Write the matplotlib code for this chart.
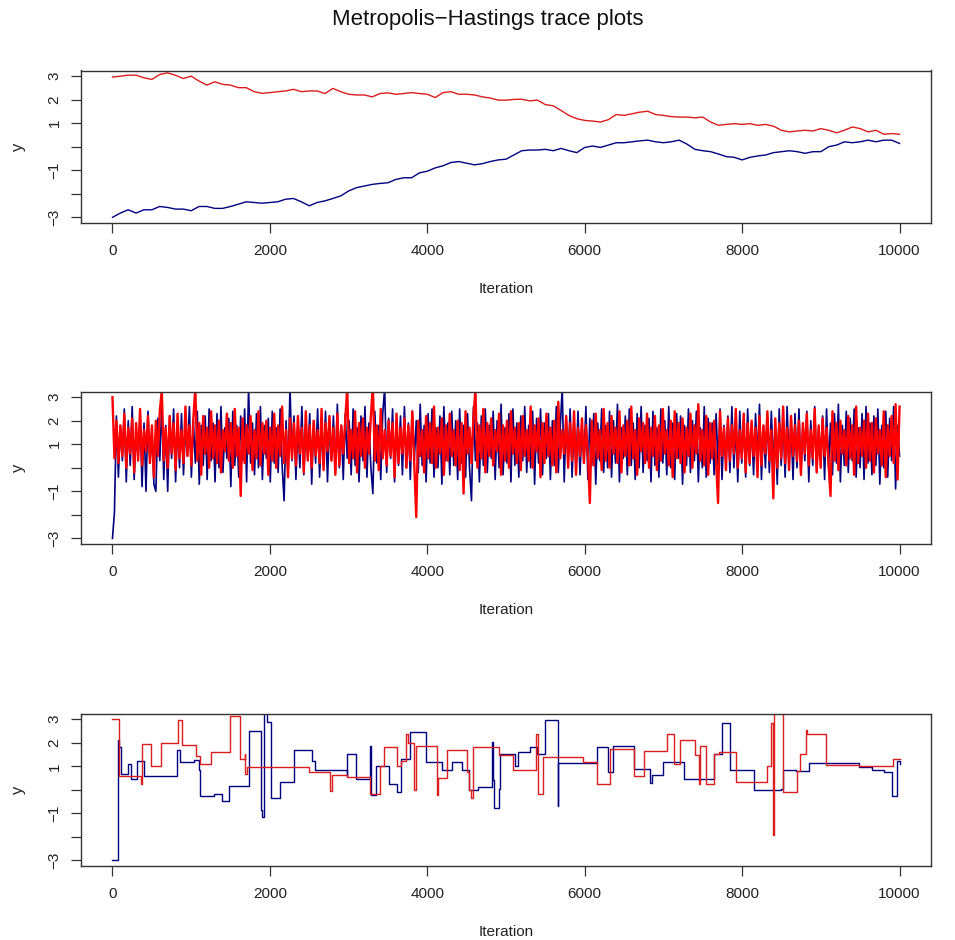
import numpy as np
import matplotlib
matplotlib.use("Agg")
import matplotlib.pyplot as plt

plt.rcParams['font.family'] = ['Liberation Sans', 'DejaVu Sans']

# chain 1: random walk proposals (slow drift), sampled every 100 iterations
red_top = [2.96, 3.0, 3.04, 3.04, 2.93, 2.86, 3.07, 3.14, 3.04, 2.9,
           3.0, 2.79, 2.62, 2.76, 2.65, 2.62, 2.51, 2.51, 2.34, 2.27,
           2.3, 2.34, 2.37, 2.44, 2.34, 2.37, 2.37, 2.26, 2.48, 2.34,
           2.23, 2.2, 2.2, 2.12, 2.26, 2.29, 2.23, 2.26, 2.3, 2.26,
           2.23, 2.09, 2.3, 2.34, 2.23, 2.23, 2.2, 2.12, 2.07, 1.98,
           1.98, 2.01, 2.02, 1.95, 1.98, 1.79, 1.74, 1.54, 1.33, 1.19,
           1.12, 1.09, 1.05, 1.15, 1.37, 1.33, 1.4, 1.47, 1.51, 1.37,
           1.33, 1.28, 1.26, 1.26, 1.23, 1.26, 1.05, 0.91, 0.95, 0.98,
           0.95, 0.98, 0.91, 0.95, 0.87, 0.7, 0.63, 0.67, 0.7, 0.67,
           0.77, 0.7, 0.59, 0.7, 0.84, 0.77, 0.63, 0.7, 0.53, 0.56, 0.53]
blue_top = [-3.0, -2.82, -2.68, -2.82, -2.68, -2.68, -2.54, -2.58, -2.65, -2.65,
            -2.72, -2.54, -2.54, -2.62, -2.62, -2.54, -2.44, -2.34, -2.37, -2.4,
            -2.37, -2.34, -2.23, -2.2, -2.34, -2.51, -2.37, -2.3, -2.2, -2.09,
            -1.88, -1.74, -1.67, -1.6, -1.56, -1.53, -1.39, -1.32, -1.32, -1.11,
            -1.04, -0.9, -0.81, -0.67, -0.63, -0.7, -0.77, -0.72, -0.63, -0.56,
            -0.53, -0.35, -0.17, -0.14, -0.14, -0.11, -0.17, -0.07, -0.17, -0.25,
            -0.03, 0.03, -0.03, 0.07, 0.17, 0.17, 0.21, 0.25, 0.28, 0.21,
            0.17, 0.21, 0.28, 0.11, -0.11, -0.17, -0.21, -0.31, -0.42, -0.45,
            -0.56, -0.45, -0.39, -0.35, -0.25, -0.21, -0.17, -0.21, -0.28, -0.21,
            -0.21, 0.0, 0.07, 0.21, 0.17, 0.21, 0.28, 0.21, 0.28, 0.28, 0.14]

# chain 2: well-mixing sampler, thinned to 400 draws
red_mid = [3.0, 0.4, 2.0, 0.2, 1.8, 0.5, 2.3, 0.0, 1.7, 0.6,
           2.1, -0.2, 1.9, 0.3, 2.5, 0.1, 1.6, 0.7, 2.2, 0.2,
           1.8, -0.4, 2.0, 0.5, 2.4, 3.3, 0.3, 1.7, 0.0, 2.2,
           0.6, 1.9, -0.1, 2.3, 0.4, 1.6, 0.2, 2.6, 0.5, 1.8,
           0.1, 2.1, 3.4, 0.3, 1.9, -0.3, 2.2, 0.6, 1.7, 0.0,
           2.4, 0.4, 1.8, 0.2, 2.0, -0.2, 1.6, 0.7, 2.3, 0.3,
           1.9, 0.0, 2.5, 0.5, 1.7, -1.2, 2.1, 0.2, 1.8, 0.6,
           2.2, -0.1, 1.6, 0.4, 2.4, 0.1, 1.9, 0.6, 2.0, -0.3,
           1.7, 0.3, 2.3, 0.0, 1.8, 0.5, 2.6, 0.2, 1.6, -0.4,
           2.1, 0.4, 1.9, 0.1, 2.2, 0.6, 1.7, -0.2, 2.4, 0.3,
           1.8, 0.0, 2.0, 0.5, 1.6, 0.2, 2.5, -0.1, 1.9, 0.7,
           2.2, 0.3, 1.7, -0.3, 2.3, 0.1, 1.8, 0.6, 2.0, 3.4,
           0.2, 1.6, 0.4, 2.4, -0.2, 1.9, 0.5, 2.1, 0.0, 1.7,
           0.6, 2.2, 3.5, 0.3, 1.8, -0.1, 2.5, 0.4, 1.6, 0.1,
           2.0, 0.5, 1.9, -0.4, 2.3, 0.2, 1.7, 0.6, 2.1, 0.0,
           1.8, 0.3, 2.4, 0.1, -2.1, 2.0, 0.5, 1.6, -0.2, 2.2,
           0.4, 1.9, 0.2, 2.6, 0.0, 1.7, 0.6, 2.1, -0.3, 1.8,
           0.3, 2.3, 0.5, 1.6, 0.1, 2.0, -0.1, 1.9, -1.1, 2.4,
           0.6, 1.7, 0.2, 2.2, 3.3, 0.0, 1.8, 0.4, 2.5, -0.2,
           1.9, 0.5, 2.1, 0.1, 1.6, 0.7, 2.3, -0.3, 1.8, 0.3,
           2.0, 0.0, 2.4, 0.6, 1.7, 0.2, 1.9, -0.1, 2.2, 0.5,
           1.6, 0.3, 2.6, 0.0, 1.8, 0.7, 2.1, -0.4, 1.9, 0.2,
           2.3, 0.5, 1.7, 0.1, 2.0, -0.2, 2.8, 0.4, 1.6, 0.6,
           2.2, 0.0, 1.9, 0.3, 2.4, -0.3, 1.7, 0.5, 2.1, 0.2,
           1.8, 0.6, -1.5, 2.0, 0.1, 2.3, 0.4, 1.6, -0.1, 2.5,
           0.3, 1.9, 0.0, 2.2, 0.6, 1.7, 0.2, 2.4, -0.2, 1.8,
           0.5, 2.0, 0.1, 2.6, 0.4, 1.6, -0.3, 2.1, 0.7, 1.9,
           0.2, 2.3, 0.0, 1.7, 0.5, 2.2, -0.1, 1.8, 0.3, 2.5,
           0.6, 1.6, 0.1, 2.0, -0.4, 2.4, 0.4, 1.9, 0.2, 2.1,
           -0.2, 1.7, 0.5, 2.3, 0.0, 1.8, 0.6, 2.7, 0.3, 1.6,
           0.1, 2.2, -0.3, 1.9, 0.4, 2.0, 0.2, -1.5, 2.4, 0.5,
           1.7, -0.1, 2.1, 0.3, 1.8, 0.6, 2.5, 0.0, 1.6, 0.4,
           2.3, -0.2, 1.9, 0.2, 2.0, 0.5, 1.7, -0.4, 2.2, 0.1,
           1.8, 0.6, 2.4, 0.3, 1.6, -1.3, 2.1, 0.0, 1.9, 0.4,
           2.6, 0.2, 1.7, -0.1, 2.2, 0.5, 1.8, 0.3, 2.0, -0.3,
           1.9, 0.6, 2.3, 0.1, 1.6, 0.4, 2.5, -0.2, 1.8, 0.0,
           2.1, 0.5, 1.7, 0.2, -1.2, 2.4, 0.3, 1.9, -0.1, 2.0,
           0.6, 1.6, 0.1, 2.2, 0.4, 1.8, -0.3, 2.6, 0.2, 1.7,
           0.5, 2.0, 0.0, 2.3, 0.3, 1.9, -0.2, 2.1, 0.6, 1.6,
           0.1, 2.4, -0.4, 1.8, 0.5, 2.2, 0.2, 2.7, -0.5, 2.6]
blue_mid = [-3.0, -1.9, 2.2, -0.4, 1.8, 0.3, 2.5, -0.6, 2.0, 0.1,
            2.6, -0.5, 1.7, 0.4, 2.3, -0.8, 1.9, -1.0, 2.4, 0.2,
            1.6, -0.7, -1.0, 2.1, 0.3, 2.7, -0.5, 1.8, -1.0, 2.2,
            0.4, 2.5, -0.6, 1.9, 0.0, 2.3, -0.3, 1.7, 0.5, 2.6,
            -0.4, 2.0, 0.2, 2.4, -0.7, 1.8, 0.1, 2.2, -0.5, 2.5,
            0.3, 1.9, -0.6, 2.3, 0.0, 2.6, -0.2, 1.7, 0.4, 2.1,
            -0.8, 2.4, 0.1, 1.8, -0.4, 2.2, 0.3, 2.5, -0.6, 3.4,
            0.2, 1.9, -0.3, 2.3, 0.0, 2.6, -0.5, 1.8, 0.4, 2.1,
            -0.6, 2.4, 0.2, 1.7, -0.2, 2.5, 0.1, -1.4, 2.0, -0.4,
            3.4, 0.3, 2.2, -0.5, 1.9, 0.0, 2.6, -0.3, 1.8, 0.4,
            2.3, -0.7, 2.0, 0.2, 2.5, -0.4, 1.7, 0.1, 2.4, -0.6,
            1.9, 0.3, 2.2, -0.2, 2.7, 0.0, 1.8, -0.5, 2.3, 0.4,
            2.0, -0.3, 2.5, 0.1, 1.7, -0.6, 2.2, 0.3, 2.6, -0.4,
            1.9, 0.0, -1.1, 2.4, 0.2, 1.8, -0.5, 2.3, 3.4, -0.2,
            2.1, 0.4, 2.5, -0.6, 1.7, 0.1, 2.2, -0.3, 2.6, 0.0,
            1.9, -0.5, 2.4, 0.3, 2.0, -0.2, 2.7, 0.1, 1.8, -0.6,
            2.3, 0.2, 2.5, -0.4, 1.7, 0.0, 2.2, -0.7, 2.6, 0.3,
            1.9, -0.3, 2.4, 0.1, 2.0, -0.5, 2.5, 0.2, 1.8, -0.4,
            2.3, 0.0, -1.4, 2.6, 0.3, 1.9, -0.6, 2.2, 0.1, 2.5,
            -0.2, 1.8, 0.4, 2.4, -0.5, 2.0, 0.0, 2.7, -0.3, 1.7,
            0.2, 2.3, -0.6, 2.5, 0.1, 1.9, -0.4, 2.2, 0.3, 2.6,
            -0.2, 1.8, 0.0, 2.4, -0.7, 2.1, 0.2, 2.5, -0.3, 1.9,
            0.4, 2.3, -0.5, 2.0, 0.1, 2.6, -0.2, 1.7, 3.4, -0.6,
            2.2, 0.3, 2.5, -0.4, 1.9, 0.0, 2.4, -0.3, 1.8, 0.2,
            2.6, -0.5, 2.1, 0.1, 2.3, -0.7, 1.9, 0.3, 2.5, -0.2,
            1.8, 0.0, 2.4, -0.4, 2.0, 0.2, 2.7, -0.6, 1.7, 0.4,
            2.2, -0.3, 2.5, 0.1, 1.9, -0.5, 2.3, 0.0, 2.6, -0.2,
            1.8, 0.3, 2.1, -0.6, 2.4, 0.1, 1.7, -0.4, 2.5, 0.2,
            2.0, -0.3, 2.6, 0.0, 1.9, -0.5, 2.3, 0.4, 2.2, -0.7,
            1.8, 0.1, 2.5, -0.2, 2.0, 0.3, 2.4, -0.6, 1.7, 0.0,
            2.6, -0.4, 2.1, 0.2, 1.9, -0.3, 2.3, 0.1, 2.5, -0.5,
            1.8, 0.3, 2.2, -0.2, 2.6, 0.0, 1.7, -0.6, 2.4, 0.2,
            2.0, -0.4, 2.5, 0.1, 1.9, -0.3, 2.3, 0.4, 2.7, -0.5,
            1.8, 0.0, 2.2, -0.2, 2.4, 0.3, 1.7, -0.7, 2.5, 0.1,
            2.1, -0.4, 2.6, 0.2, 1.9, -0.5, 2.3, 0.0, 2.5, -0.3,
            1.8, 0.3, 2.4, -0.6, 2.0, 0.1, 2.6, -0.2, 1.7, 0.4,
            2.2, -0.5, 2.5, 0.0, 1.9, -0.3, 2.3, 0.2, 2.7, -0.6,
            1.8, 0.1, 2.4, -0.2, 2.1, 0.3, 2.5, -0.4, 1.7, 0.0,
            2.3, -0.5, 2.6, 0.2, 1.9, -0.3, 2.2, 0.1, 2.5, -0.7,
            1.8, 0.0, 2.4, -0.4, 2.1, 0.3, 2.6, -0.9, 1.8, 0.5]

# chain 3: rarely accepted proposals -> piecewise constant trace (jump iteration, new value)
red_bot_at = [0, 80, 368, 380, 495, 613, 833, 884, 1057, 1108, 1248, 1497, 1616, 1679,
              1690, 1705, 2500, 2765, 2785, 2985, 3270, 3405, 3450, 3610, 3660, 3725,
              3760, 3830, 3860, 4120, 4135, 4255, 4510, 4530, 4560, 4580, 4905, 5090,
              5385, 5410, 5470, 5980, 6155, 6325, 6620, 6750, 7045, 7130, 7215, 7395,
              7450, 7470, 7535, 7640, 7700, 7920, 8312, 8363, 8395, 8410, 8515, 8697,
              8740, 8807, 8830, 9065, 9480, 9920]
red_bot_val = [3.0, 0.58, 0.26, 1.95, 0.99, 1.99, 2.97, 1.9, 1.45, 1.1, 1.62, 3.14, 1.31, 1.53,
               0.68, 0.96, 0.75, -0.05, 0.61, 0.54, -0.16, 1.03, 1.81, 1.03, 1.24, 2.37,
               1.97, 0.0, 1.88, -0.23, 0.51, 1.69, 0.75, -0.02, -0.33, 1.81, 1.46, 0.85,
               2.37, -0.16, 1.38, 1.17, 0.26, 1.73, 0.57, 1.66, 2.37, 1.1, 2.12, 1.46,
               0.26, 1.88, 0.26, 1.53, 1.6, 0.33, 1.0, 2.84, -1.92, 3.6, -0.1, 0.78,
               1.5, 2.55, 2.37, 1.06, 1.03, 1.31]
blue_bot_at = [0, 65, 85, 105, 200, 230, 310, 395, 825, 855, 1040, 1095, 1115, 1290, 1395,
               1485, 1735, 1885, 1900, 1925, 1960, 2020, 2130, 2305, 2540, 2570, 2975,
               2985, 3090, 3270, 3285, 3345, 3515, 3620, 3660, 3780, 3980, 4190, 4320,
               4445, 4530, 4650, 4820, 4840, 4850, 4905, 4925, 5120, 5150, 5310, 5395,
               5490, 5655, 5665, 6155, 6290, 6360, 6620, 6825, 6855, 6995, 7260, 7640,
               7745, 7845, 8150, 8490, 8525, 8690, 8850, 9480, 9650, 9800, 9905, 9970]
blue_bot_val = [-3.0, 2.12, 1.81, 0.68, 1.1, 0.47, 1.24, 0.6, 1.69, 1.17, 1.27, 0.82, -0.27,
                -0.19, -0.48, 0.15, 2.51, -0.86, -1.14, 3.6, 2.9, -0.37, 0.33, 1.67, 1.24,
                0.82, 0.57, 1.53, 0.47, 1.88, -0.23, 1.03, 0.26, -0.09, 1.31, 2.44, 1.17,
                0.82, 1.17, 0.82, -0.02, 0.12, 2.02, 0.4, -0.79, 0.05, 1.53, 1.03, 1.6,
                1.81, 1.53, 2.96, -0.69, 1.13, 1.81, 0.75, 1.84, 0.89, 0.29, 0.61, 1.17,
                0.47, 1.53, 2.82, 0.85, -0.02, 0.05, 0.82, 0.8, 1.13, 0.96, 0.82, 0.75,
                -0.27, 1.24]

n_iter = 10000
yticks = [-3, -2, -1, 0, 1, 2, 3]
ytick_labels = ['\u22123', '', '\u22121', '', '1', '2', '3']
xticks = [0, 2000, 4000, 6000, 8000, 10000]
RED = '#dd1c1c'
BLUE = '#000080'
FRAME = '#333333'

fig = plt.figure(figsize=(9.55, 9.4), dpi=100)
fig.text(0.511, 0.979, 'Metropolis\u2212Hastings trace plots',
         ha='center', va='center', fontsize=16, color='#111111')

bottoms = [0.7628, 0.4213, 0.0787]
axes = [fig.add_axes([0.0848, b, 0.8901, 0.1622]) for b in bottoms]


def style(ax):
    ax.set_xlim(-0.04 * n_iter, 1.04 * n_iter)
    ax.set_ylim(-3.24, 3.24)
    ax.set_xticks(xticks)
    ax.set_xticklabels([str(t) for t in xticks])
    ax.set_yticks(yticks)
    ax.set_yticklabels(ytick_labels, rotation=90, va='center')
    ax.tick_params(axis='both', direction='out', length=7, width=0.9,
                   color=FRAME, labelsize=11, labelcolor='#222222')
    ax.tick_params(axis='x', pad=8)
    ax.tick_params(axis='y', pad=7)
    for s in ax.spines.values():
        s.set_color(FRAME)
        s.set_linewidth(1.0)
    ax.set_xlabel('Iteration', fontsize=11, color='#222222')
    ax.xaxis.set_label_coords(0.5, -0.39)
    ax.set_ylabel('y', fontsize=12, color='#222222', va='center')
    ax.yaxis.set_label_coords(-0.074, 0.5)


# top: slowly drifting chains
ax = axes[0]
x = np.linspace(0, n_iter, len(red_top))
ax.plot(x, red_top, color=RED, lw=1.0)
ax.plot(x, blue_top, color=BLUE, lw=1.0)
style(ax)

# middle: fast mixing chains, blue first then red on top
ax = axes[1]
x = np.linspace(0, n_iter, len(red_mid))
ax.plot(x, blue_mid, color=BLUE, lw=1.2)
ax.plot(x, red_mid, color='red', lw=1.7)
style(ax)

# bottom: sticky chains drawn as steps
ax = axes[2]
ax.plot(blue_bot_at + [n_iter], blue_bot_val + [1.1], color=BLUE, lw=1.0,
        drawstyle='steps-post')
ax.plot(red_bot_at + [n_iter], red_bot_val + [red_bot_val[-1]], color=RED, lw=1.0,
        drawstyle='steps-post')
style(ax)

fig.savefig('out.png', dpi=100)
